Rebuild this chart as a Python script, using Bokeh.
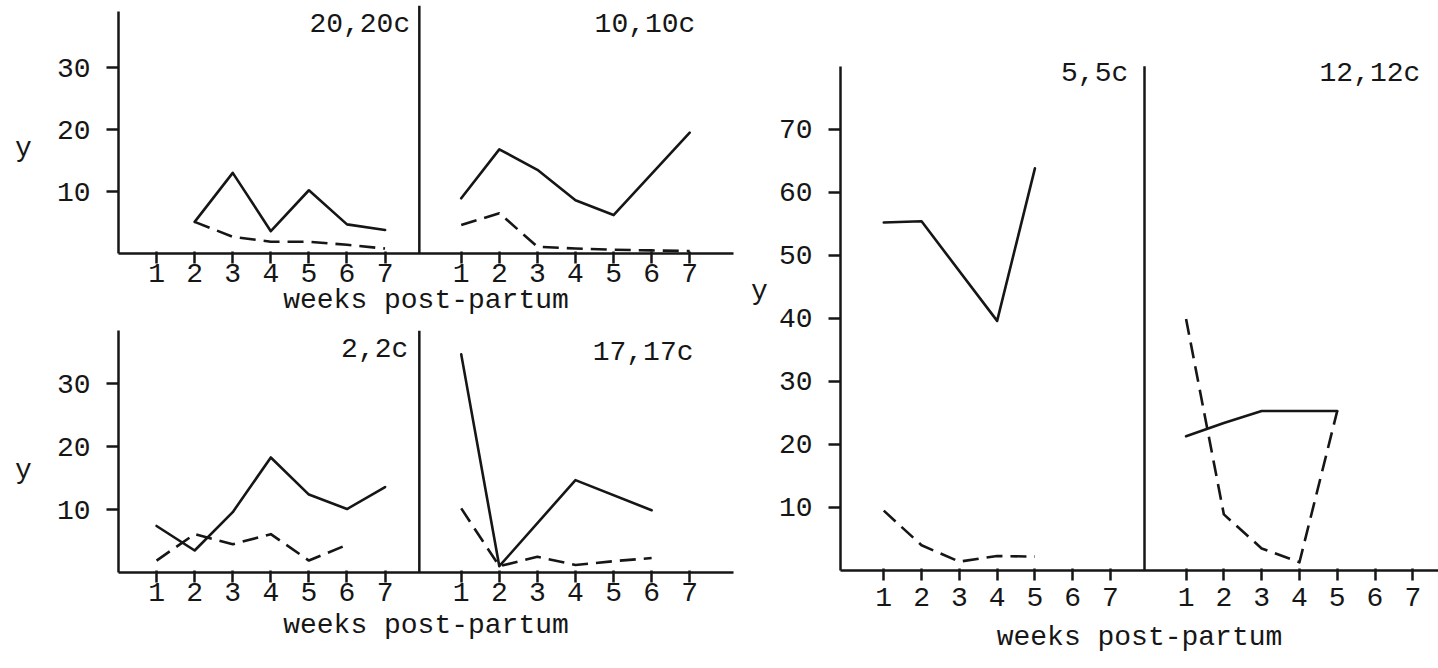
from bokeh.plotting import figure
from bokeh.models import FixedTicker, Label, Range1d
from bokeh.layouts import row, column
from bokeh.embed import file_html
from bokeh.resources import INLINE

FONT = "Liberation Mono"
INK = "#161616"
FS = "28px"

# ---------------- data ----------------
week_ticks = [1, 2, 3, 4, 5, 6, 7]
panel_shift = 8  # right-hand panel of each group is drawn 8 units to the right

# top-left group
g1_left_label = "20,20c"
g1_left_solid_weeks = [2, 3, 4, 5, 6, 7]
g1_left_solid = [5.1, 13.0, 3.6, 10.2, 4.7, 3.8]
g1_left_dashed_weeks = [2, 3, 4, 5, 6, 7]
g1_left_dashed = [5.1, 2.7, 1.9, 1.9, 1.4, 0.8]
g1_right_label = "10,10c"
g1_right_solid_weeks = [1, 2, 3, 4, 5, 7]
g1_right_solid = [8.9, 16.8, 13.5, 8.6, 6.2, 19.5]
g1_right_dashed_weeks = [1, 2, 3, 4, 5, 6, 7]
g1_right_dashed = [4.6, 6.5, 1.1, 0.8, 0.6, 0.5, 0.4]
g1_yticks = [10, 20, 30]

# bottom-left group
g2_left_label = "2,2c"
g2_left_solid_weeks = [1, 2, 3, 4, 5, 6, 7]
g2_left_solid = [7.4, 3.5, 9.6, 18.3, 12.4, 10.1, 13.6]
g2_left_dashed_weeks = [1, 2, 3, 4, 5, 6]
g2_left_dashed = [1.9, 6.1, 4.5, 6.1, 1.9, 4.4]
g2_right_label = "17,17c"
g2_right_solid_weeks = [1, 2, 4, 6]
g2_right_solid = [34.7, 1.0, 14.7, 9.9]
g2_right_dashed_weeks = [1, 2, 3, 4, 5, 6]
g2_right_dashed = [10.2, 1.0, 2.5, 1.2, 1.8, 2.3]
g2_yticks = [10, 20, 30]

# right group
g3_left_label = "5,5c"
g3_left_solid_weeks = [1, 2, 4, 5]
g3_left_solid = [55.2, 55.4, 39.6, 63.8]
g3_left_dashed_weeks = [1, 2, 3, 4, 5]
g3_left_dashed = [9.5, 4.0, 1.4, 2.3, 2.2]
g3_right_label = "12,12c"
g3_right_solid_weeks = [1, 2, 3, 5]
g3_right_solid = [21.3, 23.4, 25.3, 25.3]
g3_right_dashed_weeks = [1, 2, 3, 4, 5]
g3_right_dashed = [39.9, 8.9, 3.5, 1.3, 25.3]
g3_yticks = [10, 20, 30, 40, 50, 60, 70]

x_label = "weeks post-partum"
y_label = "y"


def make_group(width, height, borders, xr, yr, yticks, yaxis_top,
               sep_x, sep_top, panels, tick_std, lab_std,
               ytick_std, ylab_std, ylab_text):
    left, right, top, bottom = borders
    p = figure(width=width, height=height,
               x_range=Range1d(*xr), y_range=Range1d(*yr),
               output_backend="svg", toolbar_location=None,
               min_border_left=left, min_border_right=right,
               min_border_top=top, min_border_bottom=bottom,
               background_fill_color="white", border_fill_color="white")
    p.outline_line_color = None
    p.xgrid.grid_line_color = None
    p.ygrid.grid_line_color = None

    # x axis: weeks 1..7 in both panels
    xt = week_ticks + [w + panel_shift for w in week_ticks]
    xa = p.xaxis[0]
    xa.ticker = FixedTicker(ticks=xt)
    xa.major_label_overrides = {w + panel_shift: str(w) for w in week_ticks}
    xa.axis_label = x_label
    xa.axis_label_text_font = FONT
    xa.axis_label_text_font_size = FS
    xa.axis_label_text_font_style = "normal"
    xa.axis_label_text_color = INK
    xa.axis_label_standoff = lab_std
    xa.major_label_text_font = FONT
    xa.major_label_text_font_size = FS
    xa.major_label_text_color = INK
    xa.major_label_standoff = tick_std
    xa.axis_line_width = 2.5
    xa.axis_line_color = INK
    xa.major_tick_line_width = 2.5
    xa.major_tick_line_color = INK
    xa.major_tick_out = 10
    xa.major_tick_in = 2
    xa.minor_tick_line_color = None

    ya = p.yaxis[0]
    ya.ticker = FixedTicker(ticks=yticks)
    ya.bounds = (0, yaxis_top)
    ya.axis_label = ylab_text
    ya.axis_label_orientation = "horizontal"
    ya.axis_label_text_font = FONT
    ya.axis_label_text_font_size = FS
    ya.axis_label_text_font_style = "normal"
    ya.axis_label_text_color = INK
    ya.axis_label_standoff = ylab_std
    ya.major_label_text_font = FONT
    ya.major_label_text_font_size = FS
    ya.major_label_text_color = INK
    ya.major_label_standoff = ytick_std
    ya.axis_line_width = 2.5
    ya.axis_line_color = INK
    ya.major_tick_line_width = 2.5
    ya.major_tick_line_color = INK
    ya.major_tick_out = 12
    ya.major_tick_in = 0
    ya.minor_tick_line_color = None

    # separator between the two panels
    p.segment(x0=[sep_x], y0=[0], x1=[sep_x], y1=[sep_top],
              line_color=INK, line_width=2.5)

    for shift, label, lab_xy, sw, sv, dw, dv in panels:
        p.line([w + shift for w in sw], sv, line_color=INK, line_width=2.6,
               line_join="round", line_cap="round")
        p.line([w + shift for w in dw], dv, line_color=INK, line_width=2.6,
               line_dash="16 8", line_join="round")
        p.add_layout(Label(x=lab_xy[0], y=lab_xy[1], text=label,
                           text_align="right", text_baseline="top",
                           text_font=FONT, text_font_size=FS,
                           text_color=INK))
    return p


# top-left group: frame 118..733 px wide, 5..253 px tall
pA = make_group(
    width=740, height=330, borders=(118, 7, 5, 77),
    xr=(0, 16.15), yr=(0, 40), yticks=g1_yticks, yaxis_top=39,
    sep_x=7.9, sep_top=40,
    panels=[
        (0, g1_left_label, (7.66, 39.5), g1_left_solid_weeks, g1_left_solid,
         g1_left_dashed_weeks, g1_left_dashed),
        (panel_shift, g1_right_label, (15.15, 39.5), g1_right_solid_weeks,
         g1_right_solid, g1_right_dashed_weeks, g1_right_dashed),
    ],
    tick_std=0, lab_std=0, ytick_std=16, ylab_std=22,
    ylab_text="\n" + y_label)

# bottom-left group: frame 330..572 px tall
pB = make_group(
    width=740, height=338, borders=(118, 7, 0, 96),
    xr=(0, 16.15), yr=(0, 38.5), yticks=g2_yticks, yaxis_top=38.5,
    sep_x=7.9, sep_top=38.5,
    panels=[
        (0, g2_left_label, (7.61, 38.0), g2_left_solid_weeks, g2_left_solid,
         g2_left_dashed_weeks, g2_left_dashed),
        (panel_shift, g2_right_label, (15.1, 37.4), g2_right_solid_weeks,
         g2_right_solid, g2_right_dashed_weeks, g2_right_dashed),
    ],
    tick_std=0, lab_std=6, ytick_std=16, ylab_std=22,
    ylab_text="\n" + y_label)

# right group: frame 840..1438 px wide, 50..570 px tall
pC = make_group(
    width=698, height=668, borders=(100, 0, 50, 98),
    xr=(-0.145, 15.68), yr=(0, 82.5), yticks=g3_yticks, yaxis_top=80,
    sep_x=7.9, sep_top=80,
    panels=[
        (0, g3_left_label, (7.47, 81.3), g3_left_solid_weeks, g3_left_solid,
         g3_left_dashed_weeks, g3_left_dashed),
        (panel_shift, g3_right_label, (15.2, 81.3), g3_right_solid_weeks,
         g3_right_solid, g3_right_dashed_weeks, g3_right_dashed),
    ],
    tick_std=7, lab_std=13, ytick_std=16, ylab_std=8,
    ylab_text=y_label + "\n")

layout = row(column(pA, pB), pC)
open("out.html", "w").write(file_html(layout, INLINE))
